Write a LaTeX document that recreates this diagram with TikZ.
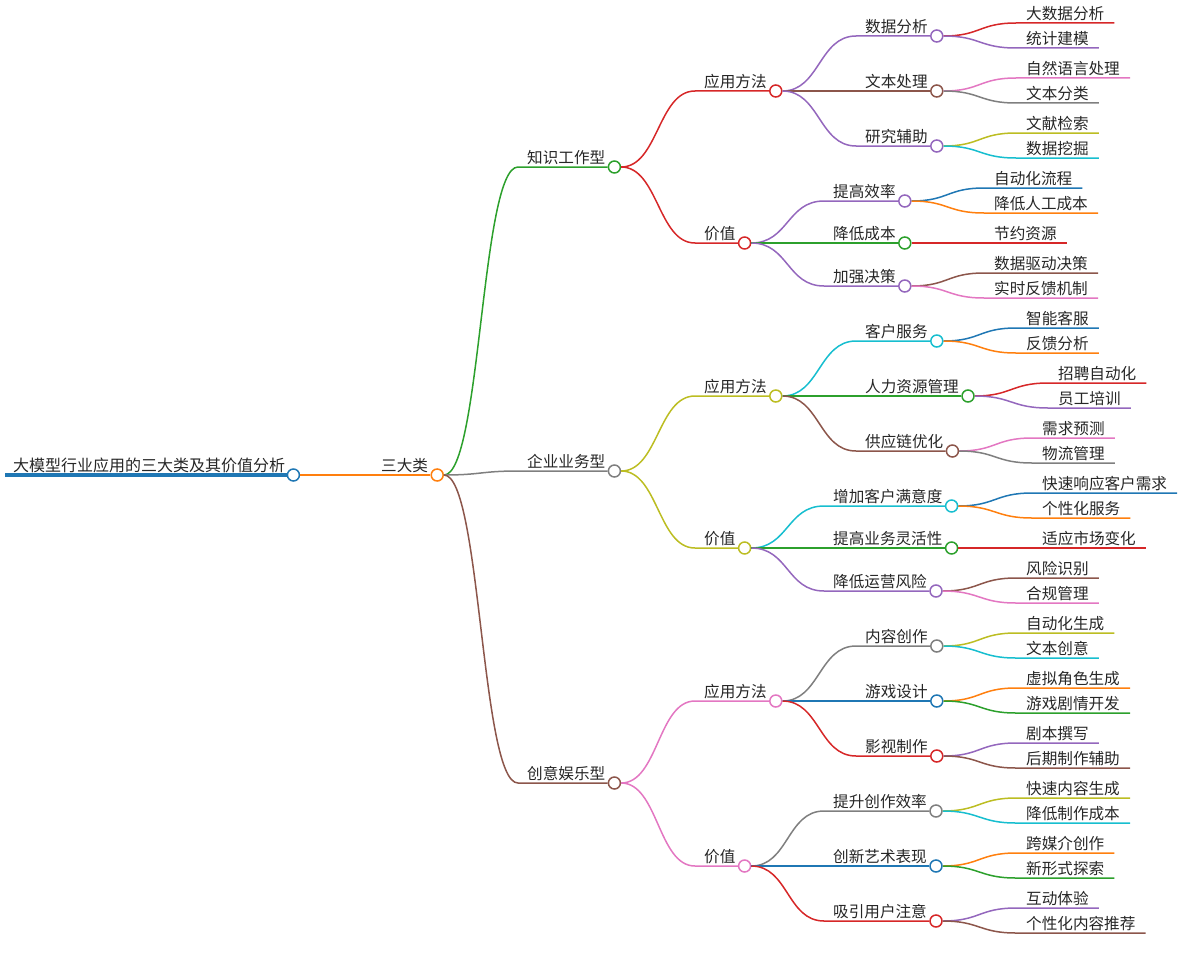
\documentclass[tikz,border=0pt]{standalone}
\usepackage{fontspec}
\setmainfont{Noto Sans CJK SC}
\usepackage{tikz}

\definecolor{tblue}{HTML}{1F77B4}
\definecolor{torange}{HTML}{FF7F0E}
\definecolor{tgreen}{HTML}{2CA02C}
\definecolor{tred}{HTML}{D62728}
\definecolor{tpurple}{HTML}{9467BD}
\definecolor{tbrown}{HTML}{8C564B}
\definecolor{tpink}{HTML}{E377C2}
\definecolor{tgray}{HTML}{7F7F7F}
\definecolor{tolive}{HTML}{BCBD22}
\definecolor{tcyan}{HTML}{17BECF}

\tikzset{
  topic/.style={anchor=south west, inner xsep=9pt, inner ysep=2pt, text=black!85,
    font=\fontsize{15.6pt}{18pt}\selectfont},
  leaf/.style={topic, inner xsep=10pt},
  dot/.style={circle, draw=#1, fill=white, line width=1.5pt, minimum size=12pt, inner sep=0pt},
  br/.style={draw=#1, line width=1.5pt}
}

\begin{document}
\begin{tikzpicture}[x=1pt, y=-1pt]
\useasboundingbox (0,0) rectangle (1185,963);

% root and first level
\node[topic, inner xsep=8pt, font=\fontsize{16pt}{19pt}\selectfont] (r) at (5,475) {大模型行业应用的三大类及其价值分析};
\node[dot=tblue] (rc) at (r.south east) {};
\draw[tblue, line width=3.5pt] (r.south west) -- (rc.west);

\node[topic] (s) at (372,475) {三大类};
\node[dot=torange] (sc) at (s.south east) {};
\draw[br=torange] (rc.east) -- (s.south west) -- (sc.west);

% three types
\node[topic] (k) at (518,167) {知识工作型};  \node[dot=tgreen] (kc) at (k.south east) {};
\node[topic] (e) at (518,471) {企业业务型};  \node[dot=tgray] (ec) at (e.south east) {};
\node[topic] (c) at (518,783) {创意娱乐型};  \node[dot=tbrown] (cc) at (c.south east) {};

\draw[br=tgreen] (sc.east) .. controls +(37,0) and +(-37,0) .. (k.south west) -- (kc.west);
\draw[br=tgray]  (sc.east) .. controls +(37,0) and +(-37,0) .. (e.south west) -- (ec.west);
\draw[br=tbrown] (sc.east) .. controls +(37,0) and +(-37,0) .. (c.south west) -- (cc.west);

% methods and value
\node[topic] (k1) at (695,91)  {应用方法}; \node[dot=tred] (k1c) at (k1.south east) {};
\node[topic] (k2) at (695,243) {价值};     \node[dot=tred] (k2c) at (k2.south east) {};
\node[topic] (e1) at (695,396) {应用方法}; \node[dot=tolive] (e1c) at (e1.south east) {};
\node[topic] (e2) at (695,548) {价值};     \node[dot=tolive] (e2c) at (e2.south east) {};
\node[topic] (c1) at (695,701) {应用方法}; \node[dot=tpink] (c1c) at (c1.south east) {};
\node[topic] (c2) at (695,866) {价值};     \node[dot=tpink] (c2c) at (c2.south east) {};

\draw[br=tred]   (kc.east) .. controls +(37,0) and +(-37,0) .. (k1.south west) -- (k1c.west);
\draw[br=tred]   (kc.east) .. controls +(37,0) and +(-37,0) .. (k2.south west) -- (k2c.west);
\draw[br=tolive] (ec.east) .. controls +(37,0) and +(-37,0) .. (e1.south west) -- (e1c.west);
\draw[br=tolive] (ec.east) .. controls +(37,0) and +(-37,0) .. (e2.south west) -- (e2c.west);
\draw[br=tpink]  (cc.east) .. controls +(37,0) and +(-37,0) .. (c1.south west) -- (c1c.west);
\draw[br=tpink]  (cc.east) .. controls +(37,0) and +(-37,0) .. (c2.south west) -- (c2c.west);

% knowledge work
\node[topic] (k11) at (856,36)  {数据分析}; \node[dot=tpurple] (k11c) at (k11.south east) {};
\node[topic] (k12) at (856,91)  {文本处理}; \node[dot=tbrown] (k12c) at (k12.south east) {};
\node[topic] (k13) at (856,146) {研究辅助}; \node[dot=tpurple] (k13c) at (k13.south east) {};
\node[topic] (k21) at (824,201) {提高效率}; \node[dot=tpurple] (k21c) at (k21.south east) {};
\node[topic] (k22) at (824,243) {降低成本}; \node[dot=tgreen] (k22c) at (k22.south east) {};
\node[topic] (k23) at (824,286) {加强决策}; \node[dot=tpurple] (k23c) at (k23.south east) {};

\draw[br=tpurple] (k1c.east) .. controls +(37,0) and +(-37,0) .. (k11.south west) -- (k11c.west);
\draw[br=tbrown]  (k1c.east) .. controls +(37,0) and +(-37,0) .. (k12.south west) -- (k12c.west);
\draw[br=tpurple] (k1c.east) .. controls +(37,0) and +(-37,0) .. (k13.south west) -- (k13c.west);
\draw[br=tpurple] (k2c.east) .. controls +(37,0) and +(-37,0) .. (k21.south west) -- (k21c.west);
\draw[br=tgreen]  (k2c.east) .. controls +(37,0) and +(-37,0) .. (k22.south west) -- (k22c.west);
\draw[br=tpurple] (k2c.east) .. controls +(37,0) and +(-37,0) .. (k23.south west) -- (k23c.west);

\node[leaf] (k111) at (1016,23)  {大数据分析};
\node[leaf] (k112) at (1016,48)  {统计建模};
\node[leaf] (k121) at (1016,78)  {自然语言处理};
\node[leaf] (k122) at (1016,103) {文本分类};
\node[leaf] (k131) at (1016,133) {文献检索};
\node[leaf] (k132) at (1016,158) {数据挖掘};
\node[leaf] (k211) at (984,188)  {自动化流程};
\node[leaf] (k212) at (984,213)  {降低人工成本};
\node[leaf] (k221) at (984,243)  {节约资源};
\node[leaf] (k231) at (984,273)  {数据驱动决策};
\node[leaf] (k232) at (984,298)  {实时反馈机制};

\draw[br=tred]    (k11c.east) .. controls +(37,0) and +(-37,0) .. (k111.south west) -- (k111.south east);
\draw[br=tpurple] (k11c.east) .. controls +(37,0) and +(-37,0) .. (k112.south west) -- (k112.south east);
\draw[br=tpink]   (k12c.east) .. controls +(37,0) and +(-37,0) .. (k121.south west) -- (k121.south east);
\draw[br=tgray]   (k12c.east) .. controls +(37,0) and +(-37,0) .. (k122.south west) -- (k122.south east);
\draw[br=tolive]  (k13c.east) .. controls +(37,0) and +(-37,0) .. (k131.south west) -- (k131.south east);
\draw[br=tcyan]   (k13c.east) .. controls +(37,0) and +(-37,0) .. (k132.south west) -- (k132.south east);
\draw[br=tblue]   (k21c.east) .. controls +(37,0) and +(-37,0) .. (k211.south west) -- (k211.south east);
\draw[br=torange] (k21c.east) .. controls +(37,0) and +(-37,0) .. (k212.south west) -- (k212.south east);
\draw[br=tred]    (k22c.east) -- (k221.south west) -- (k221.south east);
\draw[br=tbrown]  (k23c.east) .. controls +(37,0) and +(-37,0) .. (k231.south west) -- (k231.south east);
\draw[br=tpink]   (k23c.east) .. controls +(37,0) and +(-37,0) .. (k232.south west) -- (k232.south east);

% enterprise business
\node[topic] (e11) at (856,341) {客户服务};       \node[dot=tcyan] (e11c) at (e11.south east) {};
\node[topic] (e12) at (856,396) {人力资源管理};   \node[dot=tgreen] (e12c) at (e12.south east) {};
\node[topic] (e13) at (856,451) {供应链优化};     \node[dot=tbrown] (e13c) at (e13.south east) {};
\node[topic] (e21) at (824,506) {增加客户满意度}; \node[dot=tcyan] (e21c) at (e21.south east) {};
\node[topic] (e22) at (824,548) {提高业务灵活性}; \node[dot=tgreen] (e22c) at (e22.south east) {};
\node[topic] (e23) at (824,591) {降低运营风险};   \node[dot=tpurple] (e23c) at (e23.south east) {};

\draw[br=tcyan]   (e1c.east) .. controls +(37,0) and +(-37,0) .. (e11.south west) -- (e11c.west);
\draw[br=tgreen]  (e1c.east) .. controls +(37,0) and +(-37,0) .. (e12.south west) -- (e12c.west);
\draw[br=tbrown]  (e1c.east) .. controls +(37,0) and +(-37,0) .. (e13.south west) -- (e13c.west);
\draw[br=tcyan]   (e2c.east) .. controls +(37,0) and +(-37,0) .. (e21.south west) -- (e21c.west);
\draw[br=tgreen]  (e2c.east) .. controls +(37,0) and +(-37,0) .. (e22.south west) -- (e22c.west);
\draw[br=tpurple] (e2c.east) .. controls +(37,0) and +(-37,0) .. (e23.south west) -- (e23c.west);

\node[leaf] (e111) at (1016,328) {智能客服};
\node[leaf] (e112) at (1016,353) {反馈分析};
\node[leaf] (e121) at (1048,383) {招聘自动化};
\node[leaf] (e122) at (1048,408) {员工培训};
\node[leaf] (e131) at (1032,438) {需求预测};
\node[leaf] (e132) at (1032,463) {物流管理};
\node[leaf] (e211) at (1032,493) {快速响应客户需求};
\node[leaf] (e212) at (1032,518) {个性化服务};
\node[leaf] (e221) at (1032,548) {适应市场变化};
\node[leaf] (e231) at (1016,578) {风险识别};
\node[leaf] (e232) at (1016,603) {合规管理};

\draw[br=tblue]   (e11c.east) .. controls +(37,0) and +(-37,0) .. (e111.south west) -- (e111.south east);
\draw[br=torange] (e11c.east) .. controls +(37,0) and +(-37,0) .. (e112.south west) -- (e112.south east);
\draw[br=tred]    (e12c.east) .. controls +(37,0) and +(-37,0) .. (e121.south west) -- (e121.south east);
\draw[br=tpurple] (e12c.east) .. controls +(37,0) and +(-37,0) .. (e122.south west) -- (e122.south east);
\draw[br=tpink]   (e13c.east) .. controls +(37,0) and +(-37,0) .. (e131.south west) -- (e131.south east);
\draw[br=tgray]   (e13c.east) .. controls +(37,0) and +(-37,0) .. (e132.south west) -- (e132.south east);
\draw[br=tblue]   (e21c.east) .. controls +(37,0) and +(-37,0) .. (e211.south west) -- (e211.south east);
\draw[br=torange] (e21c.east) .. controls +(37,0) and +(-37,0) .. (e212.south west) -- (e212.south east);
\draw[br=tred]    (e22c.east) -- (e221.south west) -- (e221.south east);
\draw[br=tbrown]  (e23c.east) .. controls +(37,0) and +(-37,0) .. (e231.south west) -- (e231.south east);
\draw[br=tpink]   (e23c.east) .. controls +(37,0) and +(-37,0) .. (e232.south west) -- (e232.south east);

% creative entertainment
\node[topic] (c11) at (856,646) {内容创作};     \node[dot=tgray] (c11c) at (c11.south east) {};
\node[topic] (c12) at (856,701) {游戏设计};     \node[dot=tblue] (c12c) at (c12.south east) {};
\node[topic] (c13) at (856,756) {影视制作};     \node[dot=tred] (c13c) at (c13.south east) {};
\node[topic] (c21) at (824,811) {提升创作效率}; \node[dot=tgray] (c21c) at (c21.south east) {};
\node[topic] (c22) at (824,866) {创新艺术表现}; \node[dot=tblue] (c22c) at (c22.south east) {};
\node[topic] (c23) at (824,921) {吸引用户注意}; \node[dot=tred] (c23c) at (c23.south east) {};

\draw[br=tgray] (c1c.east) .. controls +(37,0) and +(-37,0) .. (c11.south west) -- (c11c.west);
\draw[br=tblue] (c1c.east) .. controls +(37,0) and +(-37,0) .. (c12.south west) -- (c12c.west);
\draw[br=tred]  (c1c.east) .. controls +(37,0) and +(-37,0) .. (c13.south west) -- (c13c.west);
\draw[br=tgray] (c2c.east) .. controls +(37,0) and +(-37,0) .. (c21.south west) -- (c21c.west);
\draw[br=tblue] (c2c.east) .. controls +(37,0) and +(-37,0) .. (c22.south west) -- (c22c.west);
\draw[br=tred]  (c2c.east) .. controls +(37,0) and +(-37,0) .. (c23.south west) -- (c23c.west);

\node[leaf] (c111) at (1016,633) {自动化生成};
\node[leaf] (c112) at (1016,658) {文本创意};
\node[leaf] (c121) at (1016,688) {虚拟角色生成};
\node[leaf] (c122) at (1016,713) {游戏剧情开发};
\node[leaf] (c131) at (1016,743) {剧本撰写};
\node[leaf] (c132) at (1016,768) {后期制作辅助};
\node[leaf] (c211) at (1016,798) {快速内容生成};
\node[leaf] (c212) at (1016,823) {降低制作成本};
\node[leaf] (c221) at (1016,853) {跨媒介创作};
\node[leaf] (c222) at (1016,878) {新形式探索};
\node[leaf] (c231) at (1016,908) {互动体验};
\node[leaf] (c232) at (1016,933) {个性化内容推荐};

\draw[br=tolive]  (c11c.east) .. controls +(37,0) and +(-37,0) .. (c111.south west) -- (c111.south east);
\draw[br=tcyan]   (c11c.east) .. controls +(37,0) and +(-37,0) .. (c112.south west) -- (c112.south east);
\draw[br=torange] (c12c.east) .. controls +(37,0) and +(-37,0) .. (c121.south west) -- (c121.south east);
\draw[br=tgreen]  (c12c.east) .. controls +(37,0) and +(-37,0) .. (c122.south west) -- (c122.south east);
\draw[br=tpurple] (c13c.east) .. controls +(37,0) and +(-37,0) .. (c131.south west) -- (c131.south east);
\draw[br=tbrown]  (c13c.east) .. controls +(37,0) and +(-37,0) .. (c132.south west) -- (c132.south east);
\draw[br=tolive]  (c21c.east) .. controls +(37,0) and +(-37,0) .. (c211.south west) -- (c211.south east);
\draw[br=tcyan]   (c21c.east) .. controls +(37,0) and +(-37,0) .. (c212.south west) -- (c212.south east);
\draw[br=torange] (c22c.east) .. controls +(37,0) and +(-37,0) .. (c221.south west) -- (c221.south east);
\draw[br=tgreen]  (c22c.east) .. controls +(37,0) and +(-37,0) .. (c222.south west) -- (c222.south east);
\draw[br=tpurple] (c23c.east) .. controls +(37,0) and +(-37,0) .. (c231.south west) -- (c231.south east);
\draw[br=tbrown]  (c23c.east) .. controls +(37,0) and +(-37,0) .. (c232.south west) -- (c232.south east);

\end{tikzpicture}
\end{document}
